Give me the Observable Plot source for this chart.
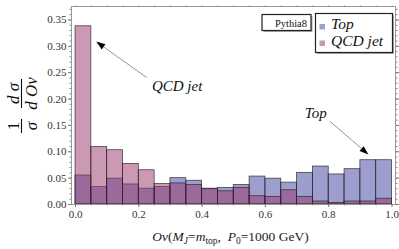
<!DOCTYPE html>
<html><head><meta charset="utf-8">
<script src="https://cdn.jsdelivr.net/npm/d3@7"></script>
<script src="https://cdn.jsdelivr.net/npm/@observablehq/plot@0.6"></script>
<style>body{margin:0;background:#fff}</style>
</head><body><div id="chart"></div>
<script>
// ---- data ----
const binStarts = [0.00,0.05,0.10,0.15,0.20,0.25,0.30,0.35,0.40,0.45,0.50,0.55,0.60,0.65,0.70,0.75,0.80,0.85,0.90,0.95];
const binWidth = 0.05;
const topValues = [0.055,0.033,0.049,0.038,0.030,0.033,0.050,0.045,0.030,0.0315,0.037,0.053,0.049,0.0415,0.060,0.072,0.057,0.067,0.084,0.084];
const qcdValues = [0.338,0.109,0.103,0.077,0.065,0.039,0.040,0.037,0.029,0.025,0.0315,0.0157,0.0145,0.027,0.0145,0.0057,0.003,0.0057,0.0057,0.011];
const yTicks = [0,0.05,0.10,0.15,0.20,0.25,0.30,0.35];
const xTicks = [0,0.2,0.4,0.6,0.8,1.0];
const seriesNames = ["Top","QCD jet"];
const seriesColors = ["rgb(61,61,158)","rgb(153,51,107)"];
const generatorLabel = "Pythia8";
const annotations = [
  {label:"QCD jet", tx:0.321, ty:0.2245, x1:0.226, y1:0.240, x2:0.067, y2:0.308},
  {label:"Top",     tx:0.759, ty:0.174,  x1:0.805, y1:0.157, x2:0.927, y2:0.094}
];

const rows = (vals, s) => binStarts.map((x0,i)=>({x1:x0, x2:x0+binWidth, y:vals[i], series:s}));
const topRows = rows(topValues, seriesNames[0]);
const qcdRows = rows(qcdValues, seriesNames[1]);

const serif = "'Liberation Serif','Times New Roman',serif";
const barStyle = {stroke:"#222", strokeOpacity:0.8, strokeWidth:0.8, fillOpacity:0.5};

const plot = Plot.plot({
  width:399, height:249,
  marginLeft:71, marginRight:4, marginTop:6, marginBottom:45,
  x:{domain:[-0.0127,1.011]},
  y:{domain:[0,0.3755]},
  style:{fontFamily:serif, fontSize:"11px", color:"#333", background:"white"},
  marks:[
    Plot.rectY(topRows,{x1:"x1",x2:"x2",y:"y",fill:seriesColors[0],...barStyle}),
    Plot.rectY(qcdRows,{x1:"x1",x2:"x2",y:"y",fill:seriesColors[1],...barStyle}),
    Plot.frame({stroke:"#999"}),
    Plot.axisY({ticks:yTicks, tickFormat:".2f", tickSize:3, tickPadding:2, label:null, stroke:"#777"}),
    Plot.axisY({ticks:d3.range(0,0.371,0.01), tickFormat:()=>"", tickSize:1.5, label:null, stroke:"#888"}),
    Plot.axisY({anchor:"right", ticks:d3.range(0,0.371,0.01), tickFormat:()=>"", tickSize:1.5, label:null, stroke:"#888"}),
    Plot.axisY({anchor:"right", ticks:yTicks, tickFormat:()=>"", tickSize:3, label:null, stroke:"#777"}),
    Plot.axisX({ticks:xTicks, tickFormat:".1f", tickSize:3, tickPadding:3, label:null, stroke:"#777"}),
    Plot.axisX({ticks:d3.range(0,1.001,0.05), tickFormat:()=>"", tickSize:1.5, label:null, stroke:"#888"}),
    Plot.axisX({anchor:"top", ticks:d3.range(0,1.001,0.05), tickFormat:()=>"", tickSize:1.5, label:null, stroke:"#888"}),
    Plot.text(annotations,{x:"tx", y:"ty", text:"label", fontSize:15, fontStyle:"italic", fill:"#111"})
  ]
});
document.getElementById("chart").appendChild(plot);

const svg = d3.select(plot);
const X = plot.scale("x"), Y = plot.scale("y");

// annotation arrows
annotations.forEach(a=>{
  const sx=X.apply(a.x1), sy=Y.apply(a.y1), ex=X.apply(a.x2), ey=Y.apply(a.y2);
  const ang=Math.atan2(ey-sy, ex-sx), L=9, W=3.2;
  const bx=ex-L*Math.cos(ang), by=ey-L*Math.sin(ang);
  svg.append("line").attr("x1",sx).attr("y1",sy).attr("x2",bx).attr("y2",by)
     .attr("stroke","#777").attr("stroke-width",0.8);
  svg.append("path").attr("d",`M${ex},${ey}L${bx-W*Math.sin(ang)},${by+W*Math.cos(ang)}L${bx+W*Math.sin(ang)},${by-W*Math.cos(ang)}Z`)
     .attr("fill","#000");
});

// y label: (1/σ)(dσ/dOv)
const gy = svg.append("g").attr("transform","translate(21.5,110) rotate(-90)")
  .attr("font-family",serif).attr("font-size",17).attr("fill","#111").attr("text-anchor","middle");
gy.append("text").attr("x",-16).attr("y",-3).text("1");
gy.append("text").attr("x",-16).attr("y",15).attr("font-style","italic").text("σ");
gy.append("line").attr("x1",-23).attr("x2",-9).attr("y1",0).attr("y2",0).attr("stroke","#111").attr("stroke-width",1.1);
gy.append("text").attr("x",16.5).attr("y",-3).attr("font-style","italic").text("d σ");
gy.append("text").attr("x",16.5).attr("y",15).attr("font-style","italic").text("d Ov");
gy.append("line").attr("x1",2).attr("x2",31).attr("y1",0).attr("y2",0).attr("stroke","#111").attr("stroke-width",1.1);

// x label
const xl = svg.append("text").attr("x",230.5).attr("y",241).attr("text-anchor","middle")
  .attr("font-family",serif).attr("font-size",13.5).attr("fill","#222");
xl.append("tspan").attr("font-style","italic").text("Ov");
xl.append("tspan").text("(");
xl.append("tspan").attr("font-style","italic").text("M");
xl.append("tspan").attr("font-style","italic").attr("font-size",9.5).attr("dy",2.5).text("J");
xl.append("tspan").attr("dy",-2.5).text("=");
xl.append("tspan").attr("font-style","italic").text("m");
xl.append("tspan").attr("font-size",9.5).attr("dy",2.5).text("top");
xl.append("tspan").attr("dy",-2.5).text(",\u2002");
xl.append("tspan").attr("font-style","italic").text("P");
xl.append("tspan").attr("font-size",9.5).attr("dy",2.5).text("0");
xl.append("tspan").attr("dy",-2.5).text("=1000 GeV)");

// legend boxes
const legendG = svg.append("g").attr("class","legend-boxes");
legendG.append("rect").attr("x",263.5).attr("y",16).attr("width",49).attr("height",16).attr("fill","#aaa");
legendG.append("rect").attr("x",262).attr("y",14.5).attr("width",49).attr("height",16).attr("fill","#fff").attr("stroke","#222").attr("stroke-width",1.2);
legendG.append("rect").attr("x",317).attr("y",15).attr("width",77).attr("height",39).attr("fill","#aaa");
legendG.append("rect").attr("x",315.5).attr("y",13.5).attr("width",77).attr("height",39).attr("fill","#fff").attr("stroke","#222").attr("stroke-width",1.2);
legendG.append("text").attr("x",307).attr("y",26.5).attr("text-anchor","end")
   .attr("font-family",serif).attr("font-size",10.5).attr("fill","#111").text(generatorLabel);
seriesNames.forEach((n,i)=>{
  const yb = 29 + i*16.5;
  legendG.append("rect").attr("x",319.5).attr("y",yb-5).attr("width",5.5).attr("height",5.5)
    .attr("fill",seriesColors[i]).attr("fill-opacity",0.5);
  legendG.append("text").attr("x",331).attr("y",yb).attr("font-family",serif).attr("font-size",15.5)
    .attr("font-style","italic").attr("text-anchor","start").attr("fill","#111").text(n);
});
</script></body></html>
